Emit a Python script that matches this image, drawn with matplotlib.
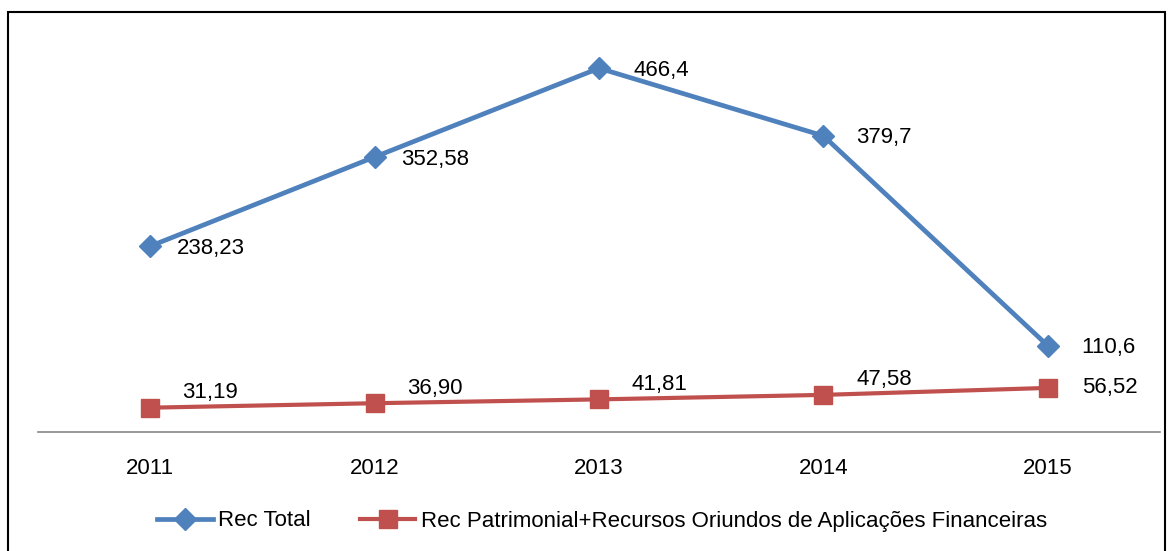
import matplotlib.pyplot as plt
from matplotlib.patches import Rectangle
from matplotlib.lines import Line2D

# =========================
# Data
# =========================

years = ["2011", "2012", "2013", "2014", "2015"]
rec_total = [238.23, 352.58, 466.4, 379.7, 110.6]
rec_patrimonial = [31.19, 36.90, 41.81, 47.58, 56.52]

total_labels = ["238,23", "352,58", "466,4", "379,7", "110,6"]
patrim_labels = ["31,19", "36,90", "41,81", "47,58", "56,52"]

blue = "#4F81BD"
red = "#C0504D"

plt.rcParams['font.family'] = ['Liberation Sans', 'DejaVu Sans']

fig = plt.figure(figsize=(11.76, 5.51), dpi=100)
ax = fig.add_axes([38 / 1176, 1 - 432 / 551, 1122 / 1176, 390 / 551])

x = list(range(len(years)))

ax.plot(x, rec_total, color=blue, lw=3.4, marker="D", ms=11,
        markerfacecolor=blue, markeredgecolor=blue, zorder=3)
ax.plot(x, rec_patrimonial, color=red, lw=3.0, marker="s", ms=13.5,
        markerfacecolor=red, markeredgecolor=red, zorder=3)

# data labels (pixel offsets)
total_off = [(27, -2), (27, -3), (34, -2), (33, -2), (33, -2)]
patrim_off = [(32, 15), (33, 15), (33, 15), (33, 15), (34, 0)]

for i in x:
    ax.annotate(total_labels[i], (i, rec_total[i]), xytext=total_off[i],
                textcoords="offset pixels", ha="left", va="center",
                fontsize=16)
    ax.annotate(patrim_labels[i], (i, rec_patrimonial[i]), xytext=patrim_off[i],
                textcoords="offset pixels", ha="left", va="center",
                fontsize=16)

ax.set_xlim(-0.5, len(years) - 0.5)
ax.set_ylim(0, 500)
ax.set_xticks(x)
ax.set_xticklabels(years, fontsize=16)
ax.tick_params(axis="x", length=0, pad=19)
ax.set_yticks([])

for side in ["top", "right", "left"]:
    ax.spines[side].set_visible(False)
ax.spines["bottom"].set_color("#868686")
ax.spines["bottom"].set_linewidth(1.2)

# legend
handles = [
    Line2D([], [], color=blue, lw=3.4, marker="D", ms=11),
    Line2D([], [], color=red, lw=3.0, marker="s", ms=13.5),
]
fig.legend(handles, ["Rec Total", "Rec Patrimonial+Recursos Oriundos de Aplicações Financeiras"],
           loc="center", bbox_to_anchor=(0.512, 1 - 521 / 551), ncol=2,
           frameon=False, fontsize=16, handlelength=2.5, handletextpad=0.25,
           columnspacing=2.2)

# outer frame
fig.patches.append(Rectangle((8 / 1176, -0.05), 1157 / 1176, 1 - 12 / 551 + 0.05,
                             transform=fig.transFigure, fill=False,
                             edgecolor="black", lw=1.5))

fig.savefig("out.png", dpi=100)
